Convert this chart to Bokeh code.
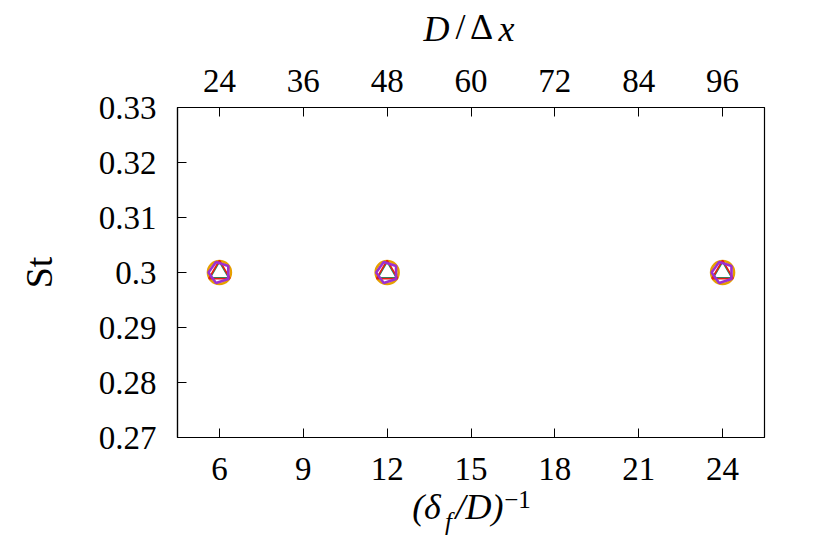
import math
from bokeh.plotting import figure
from bokeh.models import Range1d, LinearAxis, FixedTicker, ColumnDataSource
from bokeh.embed import file_html
from bokeh.resources import INLINE

# ---- data ----
inv_delta = [6, 12, 24]                 # (delta_f/D)^-1
st_circle = [0.3, 0.3, 0.3]
st_green = [0.3, 0.3, 0.3]
st_triangle = [0.3, 0.3, 0.3]
st_pentagon = [0.3, 0.3, 0.3]

x_ticks = [6, 9, 12, 15, 18, 21, 24]
top_ticks = [24, 36, 48, 60, 72, 84, 96]
y_ticks = [0.27, 0.28, 0.29, 0.30, 0.31, 0.32, 0.33]
y_tick_labels = ["0.27", "0.28", "0.29", "0.3", "0.31", "0.32", "0.33"]

FONT = "Liberation Serif"
FS = "33px"
LFS = "36px"
SFS = "25px"
W, H = 814, 538
FRAME_W = 587

p = figure(width=W, height=H, x_range=Range1d(4.5, 25.5), y_range=Range1d(0.27, 0.33),
           output_backend="svg", toolbar_location=None,
           min_border_left=177, min_border_right=50, min_border_top=107, min_border_bottom=101)
p.extra_x_ranges = {"top": Range1d(18, 102), "lbl": Range1d(0, FRAME_W)}
p.grid.visible = False
p.outline_line_color = "black"
p.outline_line_width = 1.2
p.background_fill_color = "white"
p.border_fill_color = "white"

top_axis = LinearAxis(x_range_name="top")
p.add_layout(top_axis, "above")
bottom_axis = p.below[0]
left_axis = p.left[0]

for ax in [bottom_axis, left_axis, top_axis]:
    ax.axis_line_color = "black"
    ax.axis_line_width = 1.2
    ax.major_tick_in = 9
    ax.major_tick_out = 0
    ax.major_tick_line_color = "black"
    ax.major_tick_line_width = 1
    ax.minor_tick_line_color = None
    ax.major_label_text_font = FONT
    ax.major_label_text_font_size = FS
    ax.major_label_text_color = "black"

bottom_axis.ticker = FixedTicker(ticks=x_ticks)
bottom_axis.major_label_standoff = 20
top_axis.ticker = FixedTicker(ticks=top_ticks)
top_axis.major_label_standoff = 16
left_axis.ticker = FixedTicker(ticks=y_ticks)
left_axis.major_label_overrides = {t: s for t, s in zip(y_ticks, y_tick_labels)}
left_axis.major_label_standoff = 21
left_axis.axis_label = "St"
left_axis.axis_label_text_font = FONT
left_axis.axis_label_text_font_size = "38px"
left_axis.axis_label_text_font_style = "normal"
left_axis.axis_label_text_color = "black"
left_axis.axis_label_standoff = 36


# ---- composed axis titles: text-only axes whose tick labels carry the pieces ----
def text_axis(side, positions, texts, size, style, standoff):
    ax = LinearAxis(x_range_name="lbl", ticker=FixedTicker(ticks=positions),
                    major_label_overrides={float(k): t for k, t in zip(positions, texts)},
                    axis_line_color=None, major_tick_line_color=None, minor_tick_line_color=None,
                    major_tick_in=0, major_tick_out=0,
                    major_label_text_font=FONT, major_label_text_font_size=size,
                    major_label_text_font_style=style, major_label_text_color="black",
                    major_label_standoff=standoff)
    p.add_layout(ax, side)
    return ax


# bottom: (δ_f/D)^-1   (positions are label centres, px from the frame's left edge)
text_axis("below", [340.0], ["−1"], SFS, "normal", 8)
text_axis("below", [249.0, 302.0], ["(δ", "/D)"], LFS, "italic", -24)
text_axis("below", [271.0], ["f"], SFS, "italic", -22)

# top: D/Δx
text_axis("above", [259.0, 329.0], ["D", "x"], LFS, "italic", 18)
text_axis("above", [283.0, 304.0], ["/", "Δ"], LFS, "normal", -41)

# ---- markers ----
src = ColumnDataSource(dict(x=inv_delta, yc=st_circle, yg=st_green, yt=st_triangle, yp=st_pentagon))
p.scatter("x", "yc", source=src, marker="circle", size=23, line_color="#E69F00",
          line_width=2.5, fill_color="white")
p.scatter("x", "yg", source=src, marker="triangle", size=18, line_color="#009E73",
          line_width=1.2, fill_color=None)
p.scatter("x", "yt", source=src, marker="triangle", size=21, line_color="#E51E10",
          line_width=1.8, fill_color=None)
try:
    p.ngon("x", "yp", source=src, radius=11, radius_units="screen", n=5, angle=math.pi / 2,
           line_color="#9B30D0", line_width=2.6, fill_color=None)
except Exception:
    px_x = FRAME_W / 21.0
    px_y = 330 / 0.06
    xs, ys = [], []
    for xv, yv in zip(inv_delta, st_pentagon):
        xs.append([xv + 11 / px_x * math.cos(math.pi / 2 + k * 2 * math.pi / 5) for k in range(5)])
        ys.append([yv + 11 / px_y * math.sin(math.pi / 2 + k * 2 * math.pi / 5) for k in range(5)])
    p.patches(xs, ys, line_color="#9B30D0", line_width=2.6, fill_color=None)

open("out.html", "w").write(file_html(p, INLINE))
